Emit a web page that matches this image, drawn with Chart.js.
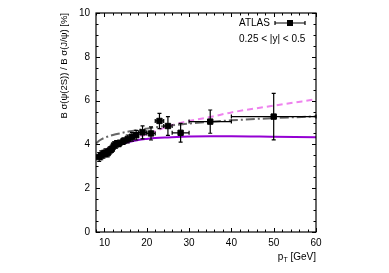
<!DOCTYPE html>
<html>
<head>
<meta charset="utf-8">
<script src="https://cdn.jsdelivr.net/npm/chart.js@4/dist/chart.umd.min.js"></script>
<style>
  html, body { margin: 0; padding: 0; background: #fff; }
  #wrap { width: 389px; height: 273px; }
</style>
</head>
<body>
<div id="wrap"><canvas id="ratio-chart" width="389" height="273"></canvas></div>
<script>
// measured ratio, 0.25 < |y| < 0.5
var ptCentres = [8.75, 9.25, 9.75, 10.25, 10.75, 11.25, 11.75, 12.25, 12.75, 13.5, 14.5, 15.5, 16.5, 17.5, 19, 21, 23, 25, 28, 35, 50];
var ptHalfWidth = [0.25, 0.25, 0.25, 0.25, 0.25, 0.25, 0.25, 0.25, 0.25, 0.5, 0.5, 0.5, 0.5, 0.5, 1, 1, 1, 1, 2, 5, 10];
var ratioVals = [3.42, 3.5, 3.55, 3.62, 3.6, 3.72, 3.8, 3.95, 4.0, 4.05, 4.15, 4.25, 4.35, 4.42, 4.55, 4.5, 5.07, 4.84, 4.53, 5.04, 5.27];
var ratioErr = [0.2, 0.2, 0.18, 0.18, 0.17, 0.17, 0.17, 0.17, 0.17, 0.15, 0.15, 0.18, 0.2, 0.22, 0.3, 0.3, 0.35, 0.43, 0.43, 0.53, 1.06];

// theory curves
var curvePt = [8, 9, 10, 12, 14, 16, 18, 20, 22, 25, 30, 35, 40, 50, 60];
var purpleCurve = [3.45, 3.55, 3.68, 3.88, 4.02, 4.12, 4.2, 4.25, 4.29, 4.32, 4.36, 4.37, 4.37, 4.35, 4.33];
var pinkCurve = [3.4, 3.55, 3.7, 3.95, 4.12, 4.25, 4.35, 4.45, 4.6, 4.82, 5.07, 5.25, 5.46, 5.77, 6.06];
var grayCurve = [4.05, 4.2, 4.3, 4.43, 4.52, 4.6, 4.66, 4.72, 4.78, 4.85, 4.95, 5.03, 5.1, 5.2, 5.28];

var xTicks = [10, 20, 30, 40, 50, 60];
var yTicks = [0, 2, 4, 6, 8, 10];

var FONT = '"Liberation Sans", Arial, sans-serif';

function pairs(xs, ys) {
  return xs.map(function(x, i) { return { x: x, y: ys[i] }; });
}

var errorBars = {
  id: 'errorBars',
  beforeDatasetDraw: function(chart, args) {
    if (args.index !== 3) return;
    var ctx = chart.ctx, xs = chart.scales.x, ys = chart.scales.y;
    ctx.save();
    ctx.strokeStyle = '#000';
    ctx.lineWidth = 1.2;
    ptCentres.forEach(function(pt, i) {
      var px = xs.getPixelForValue(pt), py = ys.getPixelForValue(ratioVals[i]);
      var x0 = xs.getPixelForValue(pt - ptHalfWidth[i]), x1 = xs.getPixelForValue(pt + ptHalfWidth[i]);
      var y0 = ys.getPixelForValue(ratioVals[i] - ratioErr[i]), y1 = ys.getPixelForValue(ratioVals[i] + ratioErr[i]);
      ctx.beginPath();
      ctx.moveTo(x0, py); ctx.lineTo(x1, py);
      ctx.moveTo(x0, py - 2); ctx.lineTo(x0, py + 2);
      ctx.moveTo(x1, py - 2); ctx.lineTo(x1, py + 2);
      ctx.moveTo(px, y0); ctx.lineTo(px, y1);
      ctx.moveTo(px - 2, y0); ctx.lineTo(px + 2, y0);
      ctx.moveTo(px - 2, y1); ctx.lineTo(px + 2, y1);
      ctx.stroke();
    });
    ctx.restore();
  }
};

var frameAndText = {
  id: 'frameAndText',
  afterDraw: function(chart) {
    var ctx = chart.ctx, a = chart.chartArea, xs = chart.scales.x, ys = chart.scales.y;
    ctx.save();
    ctx.strokeStyle = '#000';
    ctx.lineWidth = 1.2;
    ctx.strokeRect(a.left, a.top, a.right - a.left, a.bottom - a.top);
    ctx.lineWidth = 1;
    ctx.beginPath();
    // x ticks, inward on bottom and top
    for (var v = 8; v <= 60; v += 2) {
      var len = (v % 10 === 0) ? 4 : 2.5;
      var px = Math.round(xs.getPixelForValue(v)) + 0.5;
      ctx.moveTo(px, a.bottom); ctx.lineTo(px, a.bottom - len);
      ctx.moveTo(px, a.top); ctx.lineTo(px, a.top + len);
    }
    // y ticks, inward on left and right
    for (var w = 0; w <= 10; w += 0.5) {
      var l2 = (w % 2 === 0) ? 4 : 2.5;
      var py = Math.round(ys.getPixelForValue(w)) + 0.5;
      ctx.moveTo(a.left, py); ctx.lineTo(a.left + l2, py);
      ctx.moveTo(a.right, py); ctx.lineTo(a.right - l2, py);
    }
    ctx.stroke();

    ctx.fillStyle = '#000';
    ctx.font = '10px ' + FONT;
    ctx.textBaseline = 'middle';

    // legend
    ctx.textAlign = 'left';
    ctx.fillText('ATLAS', 239, 23);
    ctx.beginPath();
    ctx.lineWidth = 1.2;
    ctx.moveTo(275, 23); ctx.lineTo(305, 23);
    ctx.moveTo(275, 21); ctx.lineTo(275, 25);
    ctx.moveTo(305, 21); ctx.lineTo(305, 25);
    ctx.stroke();
    ctx.fillRect(287, 20, 6, 6);
    ctx.fillText('0.25 < |y| < 0.5', 239, 39);

    // x title
    ctx.textAlign = 'right';
    ctx.fillText('[GeV]', a.right, 257);
    var wG = ctx.measureText(' [GeV]').width;
    ctx.font = '7px ' + FONT;
    ctx.fillText('T', a.right - wG, 260);
    var wT = ctx.measureText('T').width;
    ctx.font = '10px ' + FONT;
    ctx.fillText('p', a.right - wG - wT, 257);

    // y title
    ctx.font = '9.5px ' + FONT;
    ctx.translate(64, a.top);
    ctx.rotate(-Math.PI / 2);
    ctx.textAlign = 'right';
    ctx.fillText('B \u03c3(\u03c8(2S)) / B \u03c3(J/\u03c8) [%]', 0, 0);
    ctx.restore();
  }
};

var ctx = document.getElementById('ratio-chart').getContext('2d');
new Chart(ctx, {
  type: 'scatter',
  data: {
    datasets: [{
      type: 'line',
      data: pairs(curvePt, purpleCurve),
      borderColor: '#9400d3',
      borderWidth: 2,
      pointRadius: 0,
      cubicInterpolationMode: 'monotone',
      order: 4
    }, {
      type: 'line',
      data: pairs(curvePt, pinkCurve),
      borderColor: '#ee82ee',
      borderWidth: 2,
      borderDash: [6, 4],
      pointRadius: 0,
      cubicInterpolationMode: 'monotone',
      order: 3
    }, {
      type: 'line',
      data: pairs(curvePt, grayCurve),
      borderColor: '#666666',
      borderWidth: 2,
      borderDash: [9, 3, 2, 3],
      pointRadius: 0,
      cubicInterpolationMode: 'monotone',
      order: 2
    }, {
      data: pairs(ptCentres, ratioVals),
      backgroundColor: '#000',
      borderColor: '#000',
      pointStyle: 'rect',
      pointRadius: 3.8,
      order: 1
    }]
  },
  options: {
    responsive: false,
    animation: false,
    events: [],
    layout: { padding: { left: 0, right: 73, top: 13, bottom: 0 } },
    plugins: { legend: { display: false }, tooltip: { enabled: false } },
    scales: {
      x: {
        type: 'linear',
        min: 8, max: 60,
        afterBuildTicks: function(s) { s.ticks = xTicks.map(function(v) { return { value: v }; }); },
        afterFit: function(s) { s.height = 41; },
        grid: { display: false, drawTicks: false },
        border: { display: false },
        ticks: { color: '#000', padding: 5, maxRotation: 0, font: { family: FONT, size: 10 } }
      },
      y: {
        type: 'linear',
        min: 0, max: 10,
        afterBuildTicks: function(s) { s.ticks = yTicks.map(function(v) { return { value: v }; }); },
        afterFit: function(s) { s.width = 96; },
        grid: { display: false, drawTicks: false },
        border: { display: false },
        ticks: { color: '#000', padding: 6, font: { family: FONT, size: 10 } }
      }
    }
  },
  plugins: [errorBars, frameAndText]
});
</script>
</body>
</html>
